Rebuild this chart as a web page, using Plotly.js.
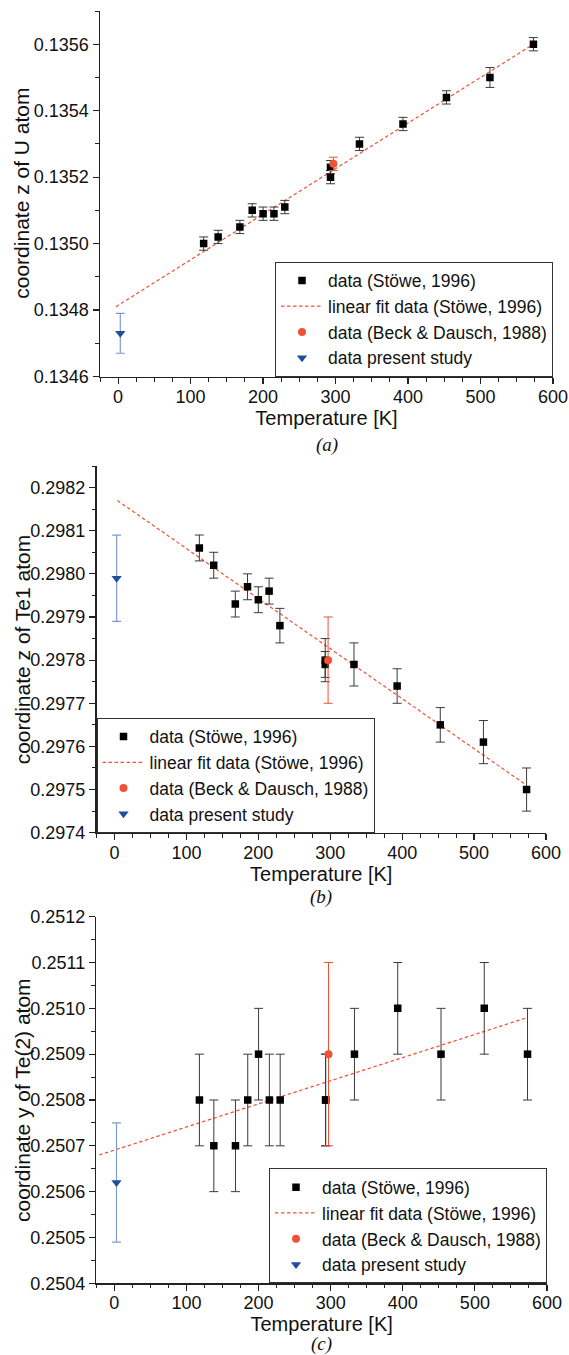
<!DOCTYPE html>
<html>
<head>
<meta charset="utf-8">
<script src="https://cdn.plot.ly/plotly-3.0.1.min.js"></script>
<style>html,body{margin:0;padding:0;background:#fff;}#chart{width:569px;height:1355px;}</style>
</head>
<body>
<div id="chart"></div>
<script>
// ---- data ----
const tempStowe = [118, 138, 168, 185, 200, 215, 230, 293, 293, 333, 393, 453, 513, 573];

const zU = [0.13500, 0.13502, 0.13505, 0.13510, 0.13509, 0.13509, 0.13511, 0.13520, 0.13523, 0.13530, 0.13536, 0.13544, 0.13550, 0.13560];
const zUErr = [0.00002, 0.00002, 0.00002, 0.00002, 0.00002, 0.00002, 0.00002, 0.00002, 0.00002, 0.00002, 0.00002, 0.00002, 0.00003, 0.00002];
const zUFitT = [-3, 573];
const zUFit = [0.13481, 0.13560];
const zUBeck = [0.13524];
const zUBeckErr = [0.00002];
const zUPresent = [0.13473];
const zUPresentErr = [0.00006];

const zTe1 = [0.29806, 0.29802, 0.29793, 0.29797, 0.29794, 0.29796, 0.29788, 0.29780, 0.29779, 0.29779, 0.29774, 0.29765, 0.29761, 0.29750];
const zTe1Err = [0.00003, 0.00003, 0.00003, 0.00003, 0.00003, 0.00003, 0.00004, 0.00005, 0.00003, 0.00005, 0.00004, 0.00004, 0.00005, 0.00005];
const zTe1FitT = [4, 573];
const zTe1Fit = [0.29817, 0.29751];
const zTe1Beck = [0.29780];
const zTe1BeckErr = [0.00010];
const zTe1Present = [0.29799];
const zTe1PresentErr = [0.00010];

const yTe2 = [0.2508, 0.2507, 0.2507, 0.2508, 0.2509, 0.2508, 0.2508, 0.2508, 0.2508, 0.2509, 0.2510, 0.2509, 0.2510, 0.2509];
const yTe2Err = [0.0001, 0.0001, 0.0001, 0.0001, 0.0001, 0.0001, 0.0001, 0.0001, 0.0001, 0.0001, 0.0001, 0.0001, 0.0001, 0.0001];
const yTe2FitT = [-21, 573];
const yTe2Fit = [0.25068, 0.25098];
const yTe2Beck = [0.2509];
const yTe2BeckErr = [0.0002];
const yTe2Present = [0.25062];
const yTe2PresentErr = [0.00013];

const tempBeck = [297];
const tempPresent = [3];

const legendNames = ['data (Stöwe, 1996)', 'linear fit data (Stöwe, 1996)', 'data (Beck & Dausch, 1988)', 'data present study'];
const yTitles = ['coordinate z of U atom', 'coordinate z of Te1 atom', 'coordinate y of Te(2) atom'];
const xTitle = 'Temperature [K]';
const captions = ['(a)', '(b)', '(c)'];
const xTickVals = [0, 100, 200, 300, 400, 500, 600];

// ---- styling ----
const FONT = 'Liberation Sans, Arial, Helvetica, sans-serif';
const RED = '#ef5234';
const BLUE = '#1d4f9f';
const BLUE_ERR = '#7f9bd0';
const AXC = '#222';

function panelTraces(idx, ys, yErr, fitT, fit, beck, beckErr, pres, presErr) {
  const xa = idx === 0 ? 'x' : 'x' + (2 * idx + 1);
  const ya = idx === 0 ? 'y' : 'y' + (2 * idx + 1);
  const lg = idx === 0 ? 'legend' : 'legend' + (idx + 1);
  return [
    {type: 'scatter', mode: 'lines', x: fitT, y: fit, xaxis: xa, yaxis: ya, legend: lg,
     name: legendNames[1], line: {color: RED, width: 1.2, dash: '3.5px,2.5px'}, legendrank: 2},
    {type: 'scatter', mode: 'markers', x: tempStowe, y: ys, xaxis: xa, yaxis: ya, legend: lg,
     name: legendNames[0], marker: {symbol: 'square', size: 7.5, color: '#000'},
     error_y: {type: 'data', array: yErr, visible: true, color: '#3a3a3a', thickness: 1, width: 4.5}, legendrank: 1},
    {type: 'scatter', mode: 'markers', x: tempBeck, y: beck, xaxis: xa, yaxis: ya, legend: lg,
     name: legendNames[2], marker: {symbol: 'circle', size: 8, color: RED},
     error_y: {type: 'data', array: beckErr, visible: true, color: RED, thickness: 1, width: 4.5}, legendrank: 3},
    {type: 'scatter', mode: 'markers', x: tempPresent, y: pres, xaxis: xa, yaxis: ya, legend: lg,
     name: legendNames[3], marker: {symbol: 'triangle-down', size: 9, color: BLUE},
     error_y: {type: 'data', array: presErr, visible: true, color: BLUE_ERR, thickness: 1.2, width: 4.5}, legendrank: 4}
  ];
}

const data = [].concat(
  panelTraces(0, zU, zUErr, zUFitT, zUFit, zUBeck, zUBeckErr, zUPresent, zUPresentErr),
  panelTraces(1, zTe1, zTe1Err, zTe1FitT, zTe1Fit, zTe1Beck, zTe1BeckErr, zTe1Present, zTe1PresentErr),
  panelTraces(2, yTe2, yTe2Err, yTe2FitT, yTe2Fit, yTe2Beck, yTe2BeckErr, yTe2Present, yTe2PresentErr)
);

const W = 569, H = 1355;
// panel boxes in pixels: [left, right, top, bottom]
const boxes = [[100, 553, 11, 376.5], [96.5, 546, 466, 832.7], [96.3, 547, 916.7, 1283.3]];
const captionY = [445, 897, 1344];
const yRanges = [[0.1346, 0.1357], [0.2974, 0.29825], [0.2504, 0.2512]];
const yDt = [0.0002, 0.0001, 0.0001];
const xRange = [-25, 600];

const layout = {
  width: W, height: H,
  margin: {l: 0, r: 0, t: 0, b: 0},
  paper_bgcolor: '#fff', plot_bgcolor: '#fff',
  showlegend: true,
  font: {family: FONT, color: '#111', size: 17},
  annotations: []
};

boxes.forEach((b, i) => {
  const xd = [b[0] / W, b[1] / W];
  const yd = [1 - b[3] / H, 1 - b[2] / H];
  const n1 = 2 * i + 1, n2 = 2 * i + 2;
  const k1 = i === 0 ? '' : String(n1);
  const xKey = 'xaxis' + k1, yKey = 'yaxis' + k1;
  const xKey2 = 'xaxis' + n2, yKey2 = 'yaxis' + n2;
  const xName = 'x' + k1, yName = 'y' + k1;
  const common = {showgrid: false, zeroline: false, showline: true, linecolor: AXC, linewidth: 1.5,
                  tickcolor: AXC, tickwidth: 1.2, fixedrange: true};
  layout[xKey] = Object.assign({}, common, {
    domain: xd, anchor: yName, range: xRange, tickmode: 'array', tickvals: xTickVals,
    ticks: 'outside', ticklen: 6, ticklabelstandoff: -3, tickfont: {family: FONT, size: 18, color: '#111'},
    minor: {dtick: 25, ticks: 'outside', ticklen: 3.5, tickcolor: AXC, tickwidth: 1},
    title: {text: xTitle, font: {family: FONT, size: 20, color: '#111'}, standoff: 0},
    automargin: false
  });
  layout[yKey] = Object.assign({}, common, {
    domain: yd, anchor: xName, range: yRanges[i], dtick: yDt[i], tick0: yRanges[i][0], tickformat: '.4f',
    ticks: 'outside', ticklen: 6, tickfont: {family: FONT, size: 18, color: '#111'},
    minor: {dtick: yDt[i] / 2, ticks: 'outside', ticklen: 3.5, tickcolor: AXC, tickwidth: 1},
    automargin: false
  });
  layout[xKey2] = Object.assign({}, common, {
    overlaying: xName, side: 'top', anchor: yName, range: xRange, tickmode: 'array', tickvals: xTickVals,
    ticks: 'inside', ticklen: 6, showticklabels: false,
    minor: {dtick: 25, ticks: 'inside', ticklen: 3.5, tickcolor: AXC, tickwidth: 1}
  });
  layout[yKey2] = Object.assign({}, common, {
    overlaying: yName, side: 'right', anchor: xName, range: yRanges[i], dtick: yDt[i], tick0: yRanges[i][0],
    ticks: 'inside', ticklen: 6, showticklabels: false,
    minor: {dtick: yDt[i] / 2, ticks: 'inside', ticklen: 3.5, tickcolor: AXC, tickwidth: 1}
  });
  // y-axis title
  layout.annotations.push({
    xref: 'paper', yref: 'paper', x: 22 / W, y: (yd[0] + yd[1]) / 2,
    xanchor: 'center', yanchor: 'middle', showarrow: false, textangle: -90,
    text: yTitles[i], font: {family: FONT, size: 21, color: '#111'}
  });
  // panel caption
  layout.annotations.push({
    xref: 'paper', yref: 'paper', x: (xd[0] + xd[1]) / 2, y: 1 - captionY[i] / H,
    xanchor: 'center', yanchor: 'middle', showarrow: false,
    text: '<i>' + captions[i] + '</i>', font: {family: 'Liberation Serif, Times New Roman, serif', size: 19, color: '#111'}
  });
});

const legendCommon = {bgcolor: '#fff', bordercolor: '#333', borderwidth: 1, font: {family: FONT, size: 17.5, color: '#111'},
                      traceorder: 'normal', tracegroupgap: 0, itemsizing: 'trace', itemwidth: 42};
layout.legend = Object.assign({}, legendCommon, {x: 553 / W, y: 1 - 376.5 / H, xanchor: 'right', yanchor: 'bottom'});
layout.legend2 = Object.assign({}, legendCommon, {x: 96.5 / W, y: 1 - 832.7 / H, xanchor: 'left', yanchor: 'bottom'});
layout.legend3 = Object.assign({}, legendCommon, {x: 547 / W, y: 1 - 1283.3 / H, xanchor: 'right', yanchor: 'bottom'});

Plotly.newPlot('chart', data, layout, {displayModeBar: false, staticPlot: true});
</script>
</body>
</html>
